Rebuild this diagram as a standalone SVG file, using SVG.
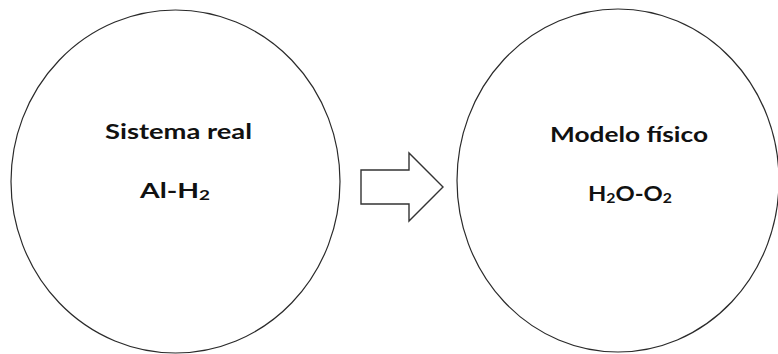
<svg xmlns="http://www.w3.org/2000/svg" width="778" height="354" viewBox="0 0 778 354">
<style>
.node{fill:none;stroke:#2a2a2a;stroke-width:1.2}
.lbl{font-family:Lato,"Open Sans","Liberation Sans",sans-serif;font-weight:bold;font-size:21px;fill:#111;text-anchor:middle}
.sub{font-size:14px}
.arrow{fill:#fff;stroke:#333;stroke-width:1.4;stroke-linejoin:miter}
</style>
<rect width="778" height="354" fill="#fff"/>
<g id="sistema-real">
<ellipse class="node" cx="175.5" cy="181.5" rx="164.5" ry="171.5"/>
<text class="lbl" x="178.5" y="139" textLength="147" lengthAdjust="spacingAndGlyphs">Sistema real</text>
<text class="lbl" x="175" y="198" textLength="70" lengthAdjust="spacingAndGlyphs">Al-H<tspan class="sub" dy="2">2</tspan></text>
</g>
<g id="modelo-fisico">
<ellipse class="node" cx="618" cy="180.5" rx="161" ry="171.5"/>
<text class="lbl" x="629" y="142" textLength="158" lengthAdjust="spacingAndGlyphs">Modelo físico</text>
<text class="lbl" x="630" y="201" textLength="84" lengthAdjust="spacingAndGlyphs">H<tspan class="sub" dy="2">2</tspan><tspan dy="-2">O-O</tspan><tspan class="sub" dy="2">2</tspan></text>
</g>
<g id="connectors">
<polygon class="arrow" points="361,170 409,170 409,153 443,187 409,221 409,204 361,204"/>
</g>
</svg>
